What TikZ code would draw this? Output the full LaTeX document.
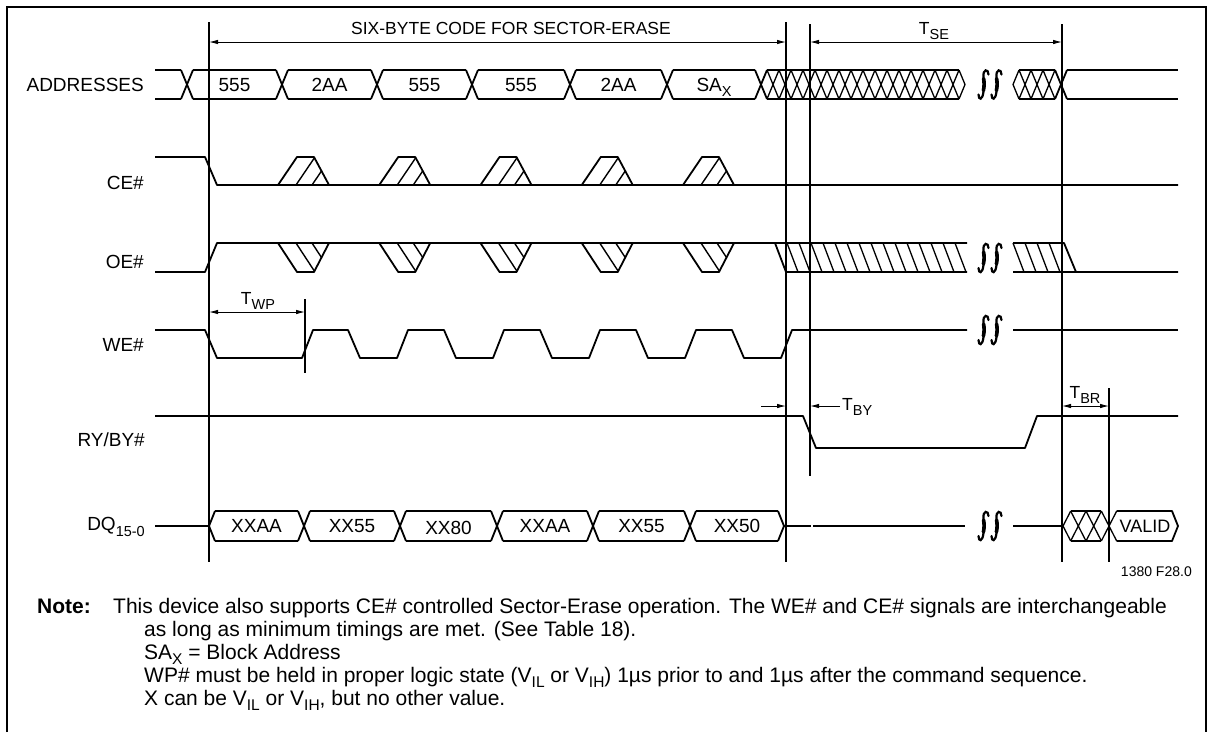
\documentclass[tikz,border=0pt]{standalone}
\usepackage{fontspec}
\setmainfont{Liberation Sans}
\usetikzlibrary{arrows.meta}
\newcommand{\sbx}[1]{\raisebox{-0.3em}{\fontsize{14.5}{15}\selectfont #1}}
\newcommand{\nsb}[1]{\raisebox{-0.25em}{\fontsize{15.5}{16}\selectfont #1}}
\begin{document}
\begin{tikzpicture}[x=1pt,y=-1pt,
  sig/.style={line width=1.8pt,line join=round},
  vl/.style={line width=1.1pt},
  dimarr/.style={line width=0.9pt,{Latex[length=9pt,width=4.5pt]}-{Latex[length=9pt,width=4.5pt]}},
  onearr/.style={line width=0.9pt,-{Latex[length=9pt,width=4.5pt]}},
  lbl/.style={font=\fontsize{19}{21}\selectfont,inner sep=0pt,text height=13.5pt,text depth=0pt},
  toplbl/.style={font=\fontsize{17.5}{19}\selectfont,inner sep=0pt,text height=12.5pt,text depth=0pt},
  siglbl/.style={lbl,anchor=east},
  note/.style={font=\fontsize{21}{23}\selectfont,inner sep=0pt,anchor=west,text height=15pt,text depth=0pt},
  brk/.pic={
    \foreach \dx in {-6.5,6.5}{
      \draw[line width=2.2pt,line cap=round] (\dx+5,-10) .. controls (\dx+5,-16) and (\dx-1,-16) .. (\dx,-7) .. controls (\dx+0.8,-2) and (\dx+0.8,2) .. (\dx,7) .. controls (\dx-1,16) and (\dx-5,16) .. (\dx-5,10);
      \draw[line width=3.6pt,line cap=round] (\dx+0.1,-6) .. controls (\dx+0.8,-2) and (\dx+0.8,2) .. (\dx-0.1,6);
    }
  }
]
\useasboundingbox (0,0) rectangle (1212,732);
% frame
\draw[line width=1.6pt] (7,732) -- (7,7) -- (1206,7) -- (1206,732);

% ---------- vertical marker lines ----------
\coordinate (v1t) at (209,22);  \coordinate (v1b) at (209,562);
\coordinate (v2t) at (786,22);  \coordinate (v2b) at (786,562);
\coordinate (v3t) at (810,24);  \coordinate (v3b) at (810,476);
\coordinate (v4t) at (1062,24); \coordinate (v4b) at (1062,562);
\coordinate (v5t) at (1109,388);\coordinate (v5b) at (1109,562);
\coordinate (v6t) at (305,299); \coordinate (v6b) at (305,373);
\foreach \i in {1,...,6} \draw[vl] (v\i t) -- (v\i b);

% ---------- dimension arrows ----------
\coordinate (a1) at (209,42); \coordinate (a2) at (786,42);
\coordinate (a3) at (810,42); \coordinate (a4) at (1062,42);
\coordinate (a5) at (209,312); \coordinate (a6) at (305,312);
\coordinate (a7) at (761,406); \coordinate (a8) at (786,406);
\coordinate (a9) at (840,406); \coordinate (a10) at (810,406);
\coordinate (a11) at (1062,406); \coordinate (a12) at (1109,406);
\draw[dimarr] (a1) -- (a2);
\draw[dimarr] (a3) -- (a4);
\draw[dimarr] (a5) -- (a6);
\draw[onearr] (a7) -- (a8);
\draw[onearr] (a9) -- (a10);
\draw[dimarr] (a11) -- (a12);
\node[toplbl] (tsix) at (511,28) {SIX-BYTE CODE FOR SECTOR-ERASE};
\node[toplbl] (tse) at (934,28) {T\sbx{SE}};
\node[toplbl] (twp) at (258,298) {T\sbx{WP}};
\node[toplbl,anchor=west] (tby) at (842,404) {T\sbx{BY}};
\node[toplbl] (tbr) at (1085,392) {T\sbx{BR}};

% ---------- signal labels ----------
\node[siglbl] (lA) at (144,85) {ADDRESSES};
\node[siglbl] (lCE) at (144,183) {CE\#};
\node[siglbl] (lOE) at (144,262) {OE\#};
\node[siglbl] (lWE) at (144,345) {WE\#};
\node[siglbl] (lRY) at (145,440) {RY/BY\#};
\node[siglbl] (lDQ) at (145,524) {DQ\sbx{15-0}};

% ---------- ADDRESSES bus ----------
\def\at{70}\def\ab{99}\def\am{84.5}
\foreach \a/\b in {155/181,193/276,288/371,383/466,478/564,576/661,673/755,1067/1178}{
  \draw[sig] (\a,\at) -- (\b,\at); \draw[sig] (\a,\ab) -- (\b,\ab);}
\foreach \c in {187,282,377,472,570,667,761,1061}{
  \draw[sig] (\c-6,\at) -- (\c+6,\ab); \draw[sig] (\c-6,\ab) -- (\c+6,\at);}
% hatched 1
\draw[sig] (767,\at) -- (959,\at); \draw[sig] (767,\ab) -- (959,\ab);
\foreach \k in {1,...,16}{
  \draw[sig,line width=1.3pt] (761+12*\k-6,\at) -- (761+12*\k+6,\ab);
  \draw[sig,line width=1.3pt] (761+12*\k-6,\ab) -- (761+12*\k+6,\at);}
\draw[sig,line width=1.3pt] (959,\at) -- (965,\am) -- (959,\ab);
% hatched 2
\draw[sig] (1019,\at) -- (1055,\at); \draw[sig] (1019,\ab) -- (1055,\ab);
\draw[sig,line width=1.3pt] (1019,\at) -- (1013,\am) -- (1019,\ab);
\foreach \c in {1025,1037,1049}{
  \draw[sig,line width=1.3pt] (\c-6,\at) -- (\c+6,\ab);
  \draw[sig,line width=1.3pt] (\c-6,\ab) -- (\c+6,\at);}
\foreach \x/\t in {234.5/555,329.5/2AA,424.5/555,521/555,618.5/2AA}
  \node[lbl] (ad\x) at (\x,\am) {\t};
\node[lbl] (adsa) at (714,\am) {SA\sbx{X}};
\pic at (990,\am) {brk};

% ---------- CE# ----------
\draw[sig] (155,157) -- (205,157) -- (217,185) -- (1178,185);
\foreach \x in {278,379.25,480.5,581.75,683}{
  \draw[sig] (\x,185) -- ++(19,-28) -- ++(17,0) -- ++(15,28);
  \begin{scope}
    \clip (\x,185) -- ++(19,-28) -- ++(17,0) -- ++(15,28) -- cycle;
    \draw[sig,line width=1.4pt] (\x+18,185) -- ++(19,-28);
    \draw[sig,line width=1.4pt] (\x+34,185) -- ++(19,-28);
  \end{scope}}

% ---------- OE# ----------
\draw[sig] (155,272) -- (205,272) -- (217,243) -- (967,243);
\foreach \x in {278,379.25,480.5,581.75,683}{
  \draw[sig] (\x,243) -- ++(19,29) -- ++(17,0) -- ++(15,-29);
  \begin{scope}
    \clip (\x,243) -- ++(19,29) -- ++(17,0) -- ++(15,-29) -- cycle;
    \draw[sig,line width=1.4pt] (\x+18,243) -- ++(19,29);
    \draw[sig,line width=1.4pt] (\x+34,243) -- ++(19,29);
  \end{scope}}
\draw[sig] (775,243) -- (786,272) -- (967,272);
\foreach \k in {1,...,15}
  \draw[sig,line width=1.3pt] (775+12*\k,243) -- ++(11,29);
\draw[sig] (1013,243) -- (1064,243) -- (1076,272) -- (1178,272);
\draw[sig] (1013,272) -- (1076,272);
\foreach \x in {1013,1025,1037,1049}
  \draw[sig,line width=1.3pt] (\x,243) -- ++(11,29);
\pic at (990,258) {brk};

% ---------- WE# ----------
\draw[sig] (155,330) -- (205,330) -- (217,358) -- (302,358) -- (313,330)
  -- (348,330) -- (360,358) -- (397,358) -- (408,330)
  -- (444,330) -- (456,358) -- (493,358) -- (504,330)
  -- (540,330) -- (552,358) -- (589,358) -- (600,330)
  -- (636,330) -- (648,358) -- (685,358) -- (696,330)
  -- (732,330) -- (744,358) -- (781,358) -- (792,330) -- (967,330);
\draw[sig] (1013,330) -- (1178,330);
\pic at (990,330) {brk};

% ---------- RY/BY# ----------
\draw[sig] (155,416) -- (803,416) -- (816,448) -- (1025,448) -- (1037,416) -- (1178,416);

% ---------- DQ ----------
\def\dt{511}\def\db{541}\def\dm{526}
\draw[sig] (155,\dm) -- (209,\dm);
\draw[sig] (215,\dt) -- (209,\dm) -- (215,\db);
\foreach \a/\b in {215/298,310/394,406/491,503/587,599/684,696/778}{
  \draw[sig] (\a,\dt) -- (\b,\dt); \draw[sig] (\a,\db) -- (\b,\db);}
\foreach \c in {304,400,497,593,690}{
  \draw[sig] (\c-6,\dt) -- (\c+6,\db); \draw[sig] (\c-6,\db) -- (\c+6,\dt);}
\draw[sig] (778,\dt) -- (784,\dm) -- (778,\db);
\draw[sig] (784,\dm) -- (811,\dm);
\draw[sig] (813,\dm) -- (965,\dm);
\draw[sig] (1013,\dm) -- (1063,\dm);
% hatched
\draw[sig] (1070.7,\dt) -- (1101.3,\dt); \draw[sig] (1070.7,\db) -- (1101.3,\db);
\draw[sig,line width=1.3pt] (1070.7,\dt) -- (1063,\dm) -- (1070.7,\db);
\foreach \c in {1078.3,1093.7,1109}{
  \draw[sig,line width=1.3pt] (\c-7.7,\dt) -- (\c+7.7,\db);
  \draw[sig,line width=1.3pt] (\c-7.7,\db) -- (\c+7.7,\dt);}
\draw[sig] (1116.7,\dt) -- (1172,\dt) -- (1178,\dm) -- (1172,\db) -- (1116.7,\db);
\foreach \x/\t in {256.5/XXAA,352/XX55,545/XXAA,641.5/XX55,737/XX50}
  \node[lbl] (dq\x) at (\x,\dm) {\t};
\node[lbl] (dq80) at (448.5,\dm+2) {XX80};
\node[lbl,font=\fontsize{18}{19}\selectfont] (dqv) at (1145,\dm) {VALID};
\pic at (990,\dm) {brk};

% ---------- notes ----------
\node[font=\fontsize{14}{15}\selectfont,inner sep=0pt,anchor=east] (fig) at (1192,572) {1380 F28.0};
\node[note,font=\bfseries\fontsize{21}{23}\selectfont] (nN) at (37,606) {Note:};
\node[note] (n1) at (113,606) {This device also supports CE\# controlled Sector-Erase operation. The WE\# and CE\# signals are interchangeable};
\node[note] (n2) at (144,629) {as long as minimum timings are met. (See Table 18).};
\node[note] (n3) at (144,652) {SA\nsb{X} = Block Address};
\node[note] (n4) at (144,675) {WP\# must be held in proper logic state (V\nsb{IL} or V\nsb{IH}) 1µs prior to and 1µs after the command sequence.};
\node[note] (n5) at (144,698) {X can be V\nsb{IL} or V\nsb{IH}, but no other value.};
\end{tikzpicture}
\end{document}
